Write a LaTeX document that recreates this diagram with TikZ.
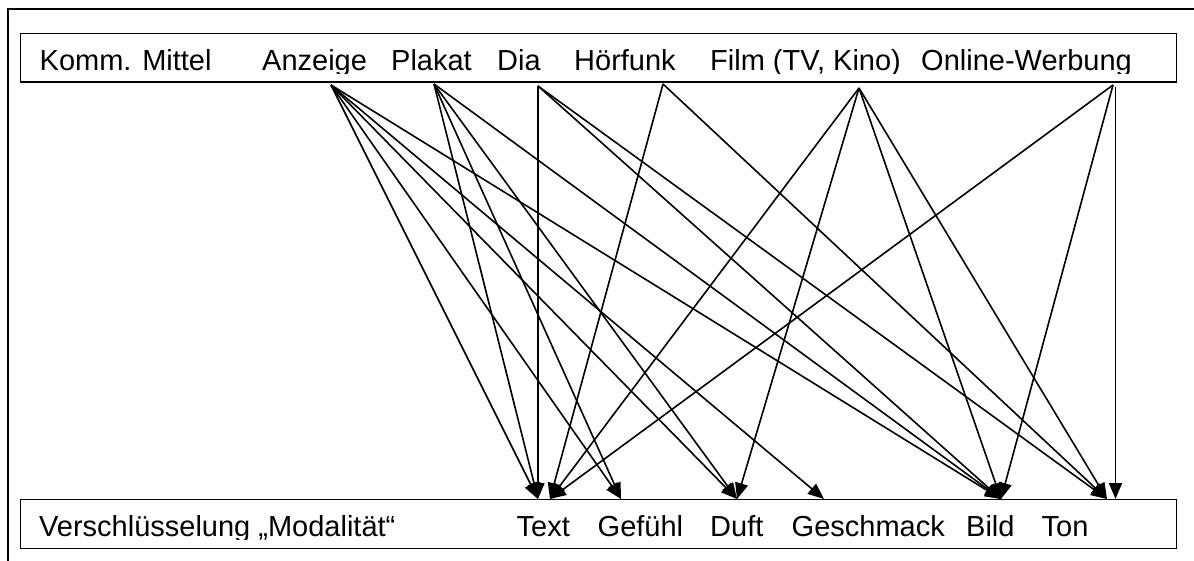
\documentclass[tikz,border=0pt]{standalone}
\usepackage{fontspec}
\setmainfont{Liberation Sans}
\usetikzlibrary{arrows.meta}
\begin{document}
\begin{tikzpicture}[x=1pt, y=-1pt]
  \tikzstyle{word}=[inner sep=0pt, anchor=base west,
    font=\fontsize{29}{35}\selectfont]
  \tikzstyle{box}=[line width=1.4pt]
  \tikzstyle{link}=[line width=1.6pt,
    -{Triangle[length=16pt,width=13pt]}]
  \useasboundingbox (0,0) rectangle (1194,560);
  \clip (0,0) rectangle (1194,560);

  % outer frame
  \draw[line width=2.8pt] (8,9) rectangle (1220,590);

  % top box
  \draw[box] (20.7,33.3) rectangle (1176.7,82);
  \begin{scope}
    \clip (20.7,33.3) rectangle (1176.7,73.2);
    \node[word] (komm) at (39.5,70.7) {Komm. Mittel};
    \node[word] (anz)  at (262,70.7) {Anzeige};
    \node[word] (plak) at (391,70.7) {Plakat};
    \node[word] (dia)  at (497,70.7) {Dia};
    \node[word] (hoer) at (574,70.7) {Hörfunk};
    \node[word] (film) at (710,70.7) {Film (TV, Kino)};
    \node[word] (onl)  at (921,70.7) {Online-Werbung};
  \end{scope}

  % bottom box
  \draw[box] (20.7,499.3) rectangle (1176.7,548.3);
  \begin{scope}
    \clip (20.7,499.3) rectangle (1176.7,539);
    \node[word] (vers) at (39,536.5) {Verschlüsselung „Modalität“};
    \node[word] (text) at (516.5,536.5) {Text};
    \node[word] (gef)  at (597.5,536.5) {Gefühl};
    \node[word] (duft) at (710,536.5) {Duft};
    \node[word] (gesch) at (791.5,536.5) {Geschmack};
    \node[word] (bild) at (966,536.5) {Bild};
    \node[word] (ton)  at (1041.5,536.5) {Ton};
  \end{scope}

  % start points
  \coordinate (anz-o)  at (331,85);
  \coordinate (plak-o) at (434,84);
  \coordinate (dia-o)  at (538,86);
  \coordinate (hoer-o) at (663,84);
  \coordinate (film-o) at (859,88);
  \coordinate (onl-o)  at (1113,85);
  \coordinate (onl-v)  at (1115.5,87);

  % end points
  \coordinate (text-l) at (538,499);
  \coordinate (text-r) at (550,499);
  \coordinate (gef-i)  at (621,499);
  \coordinate (duft-i) at (737,499);
  \coordinate (gesch-i) at (824,499);
  \coordinate (bild-i) at (1001,499);
  \coordinate (ton-l)  at (1107,499);
  \coordinate (ton-r)  at (1115.5,499);

  % Anzeige
  \foreach \t in {text-l, gef-i, duft-i, gesch-i, bild-i}
    \draw[link] (anz-o) -- (\t);
  % Plakat
  \foreach \t in {text-l, gef-i, duft-i, bild-i}
    \draw[link] (plak-o) -- (\t);
  % Dia
  \foreach \t in {text-l, bild-i, ton-l}
    \draw[link] (dia-o) -- (\t);
  % Hoerfunk
  \foreach \t in {text-r, ton-l}
    \draw[link] (hoer-o) -- (\t);
  % Film
  \foreach \t in {text-r, duft-i, bild-i, ton-l}
    \draw[link] (film-o) -- (\t);
  % Online-Werbung
  \foreach \t in {text-r, bild-i}
    \draw[link] (onl-o) -- (\t);
  \draw[link] (onl-v) -- (ton-r);
\end{tikzpicture}
\end{document}
